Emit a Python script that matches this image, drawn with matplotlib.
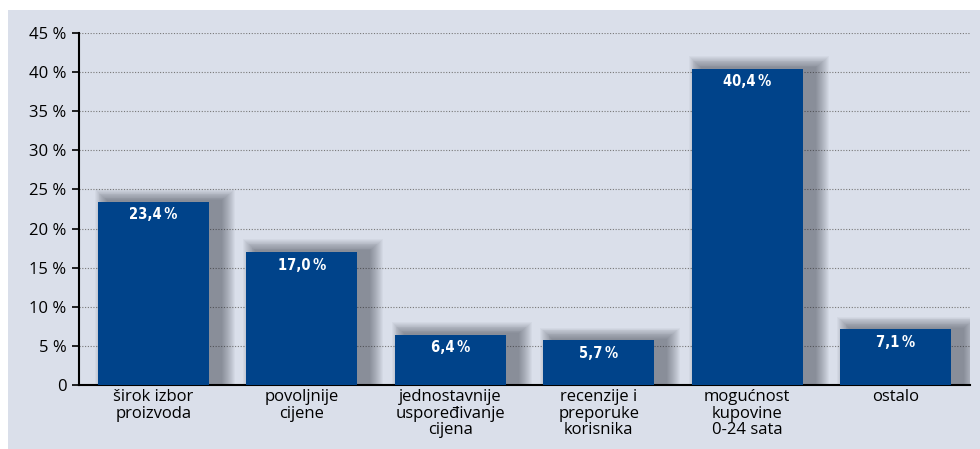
import matplotlib.pyplot as plt
from matplotlib.patches import Rectangle

kategorije = ['širok izbor\nproizvoda', 'povoljnije\ncijene', 'jednostavnije\nuspoređivanje\ncijena',
              'recenzije i\npreporuke\nkorisnika', 'mogućnost\nkupovine\n0-24 sata', 'ostalo']
udjeli = [23.4, 17.0, 6.4, 5.7, 40.4, 7.1]
oznake = ['23,4\u2009%', '17,0\u2009%', '6,4\u2009%', '5,7\u2009%', '40,4\u2009%', '7,1\u2009%']
y_ticks = [0, 5, 10, 15, 20, 25, 30, 35, 40, 45]
y_labels = ['0'] + [f'{v} %' for v in y_ticks[1:]]

plava = '#00438a'
pozadina = '#dadfea'

fig = plt.figure(figsize=(9.8, 4.49), dpi=100)
fig.patch.set_facecolor('white')
fig.add_artist(Rectangle((8 / 980, 0), 1, 1 - 10 / 449, transform=fig.transFigure,
                         facecolor=pozadina, edgecolor='none', zorder=-10))

ax = fig.add_axes([79 / 980, 64 / 449, 891 / 980, 352 / 449])
ax.set_facecolor('none')

x = list(range(len(udjeli)))
sirina = 0.75
px_x = 891 / 6.0      # pikseli po jedinici x
px_y = 352 / 45.0     # pikseli po postotku

# mekana sjena iza stupaca (desno i malo gore)
for k in range(1, 15):
    s = k * 1.5
    lijevo = [i - sirina / 2 + (10 - s * 0.6) / px_x for i in x]
    ax.bar(lijevo, [v + (1 + s * 0.55) / px_y for v in udjeli], align='edge',
           width=sirina + (2 + s * 1.25) / px_x, color='#2a2e3a', alpha=0.04, zorder=2, linewidth=0)

ax.bar(x, udjeli, width=sirina, color=plava, zorder=3, linewidth=0)

for i, (v, t) in enumerate(zip(udjeli, oznake)):
    ax.text(i, v - 13 / px_y, t, ha='center', va='center', color='white',
            fontsize=10.5, fontweight='bold', fontstretch='condensed',
            family=['DejaVu Sans'], zorder=4)

ax.set_xlim(-0.5, 5.5)
ax.set_ylim(0, 45)
ax.set_yticks(y_ticks)
ax.set_yticklabels(y_labels, fontsize=12, family='Open Sans')
ax.set_xticks(x)
ax.set_xticklabels(kategorije, fontsize=12, family='Open Sans', linespacing=1.05)
ax.tick_params(axis='x', length=0, pad=3)
ax.tick_params(axis='y', length=5, width=1.2, pad=4)

for v in y_ticks[1:]:
    ax.axhline(v, color='#777777', linestyle=(0, (1, 1.5)), linewidth=0.8, zorder=1)

for side in ['top', 'right']:
    ax.spines[side].set_visible(False)
ax.spines['left'].set_linewidth(1.5)
ax.spines['bottom'].set_linewidth(1.5)

fig.savefig('out.png', dpi=100)
